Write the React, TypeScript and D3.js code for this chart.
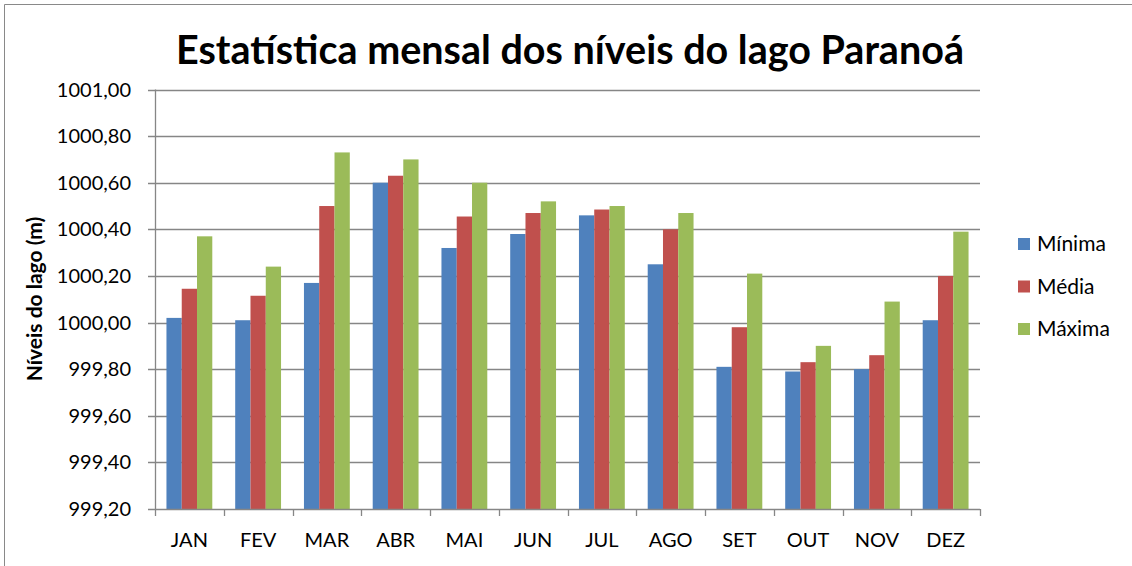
import React, { useEffect, useRef } from 'react';
import * as d3 from 'd3';

// --- Data ---
const months = ['JAN', 'FEV', 'MAR', 'ABR', 'MAI', 'JUN', 'JUL', 'AGO', 'SET', 'OUT', 'NOV', 'DEZ'];
const seriesNames = ['Mínima', 'Média', 'Máxima'];
const minima = [1000.02, 1000.01, 1000.17, 1000.60, 1000.32, 1000.38, 1000.46, 1000.25, 999.81, 999.79, 999.80, 1000.01];
const media = [1000.145, 1000.115, 1000.50, 1000.63, 1000.455, 1000.47, 1000.485, 1000.40, 999.98, 999.83, 999.86, 1000.20];
const maxima = [1000.37, 1000.24, 1000.73, 1000.70, 1000.60, 1000.52, 1000.50, 1000.47, 1000.21, 999.90, 1000.09, 1000.39];
const yTicks = [999.2, 999.4, 999.6, 999.8, 1000.0, 1000.2, 1000.4, 1000.6, 1000.8, 1001.0];
const colors = ['#4F81BD', '#C0504D', '#9BBB59'];

const W = 1132;
const H = 566;
const FONT = 'Lato, "Open Sans", sans-serif';

export default function App() {
  const svgRef = useRef<SVGSVGElement | null>(null);

  useEffect(() => {
    if (!svgRef.current) return;
    const svg = d3.select(svgRef.current);
    svg.selectAll('*').remove();

    const plot = { left: 155, right: 980, top: 89.5, bottom: 509 };
    const series = [minima, media, maxima];

    // --- Scales ---
    const x = d3.scaleBand().domain(months).range([plot.left, plot.right]).paddingInner(0).paddingOuter(0);
    const y = d3.scaleLinear().domain([999.2, 1001.0]).range([plot.bottom, plot.top]);
    const bw = x.bandwidth() / 4.5; // Excel gap width 150%
    const inner = d3.scaleBand<number>().domain([0, 1, 2]).range([0, bw * 3]);

    // outer frame (cropped at right and bottom)
    svg.append('path').attr('d', `M4.5,${H + 2} V4.5 H${W + 2}`)
      .attr('fill', 'none').attr('stroke', '#898989').attr('stroke-width', 1);

    // --- Gridlines ---
    svg.append('g').selectAll('line').data(yTicks.slice(1)).join('line')
      .attr('x1', plot.left - 7).attr('x2', plot.right)
      .attr('y1', d => Math.round(y(d)) + 0.5).attr('y2', d => Math.round(y(d)) + 0.5)
      .attr('stroke', '#868686').attr('stroke-width', 1.3);

    // --- Bars ---
    series.forEach((vals, si) => {
      svg.append('g').selectAll('rect').data(vals).join('rect')
        .attr('x', (d, i) => (x(months[i]) as number) + bw * 0.75 + (inner(si) as number))
        .attr('y', d => y(d))
        .attr('width', bw)
        .attr('height', d => plot.bottom - y(d))
        .attr('fill', colors[si]);
    });

    // --- Axes ---
    const axisColor = '#868686';
    svg.append('line').attr('x1', plot.left + 0.5).attr('x2', plot.left + 0.5)
      .attr('y1', plot.top).attr('y2', plot.bottom + 0.5).attr('stroke', axisColor).attr('stroke-width', 1.3);
    svg.append('line').attr('x1', plot.left - 7).attr('x2', plot.right)
      .attr('y1', plot.bottom + 0.5).attr('y2', plot.bottom + 0.5).attr('stroke', axisColor).attr('stroke-width', 1.3);
    const catEdges = d3.range(months.length + 1).map(i => plot.left + i * x.step());
    svg.append('g').selectAll('line').data(catEdges).join('line')
      .attr('x1', d => Math.round(d) + 0.5).attr('x2', d => Math.round(d) + 0.5)
      .attr('y1', plot.bottom).attr('y2', plot.bottom + 7)
      .attr('stroke', axisColor).attr('stroke-width', 1.3);

    const fmt = (v: number) => v.toFixed(2).replace('.', ',');
    svg.append('g').selectAll('text').data(yTicks).join('text')
      .attr('x', 131).attr('y', d => y(d)).attr('dy', '0.35em')
      .attr('text-anchor', 'end').attr('font-family', FONT).attr('font-size', 20).attr('fill', '#000')
      .text(d => fmt(d));

    svg.append('g').selectAll('text').data(months).join('text')
      .attr('x', d => (x(d) as number) + x.bandwidth() / 2).attr('y', 547)
      .attr('text-anchor', 'middle').attr('font-family', FONT).attr('font-size', 20).attr('fill', '#000')
      .text(d => d);

    // --- Titles ---
    svg.append('text').attr('x', 570).attr('y', 64).attr('text-anchor', 'middle')
      .attr('font-family', FONT).attr('font-weight', 'bold').attr('font-size', 39.5).attr('fill', '#000')
      .text('Estatística mensal dos níveis do lago Paranoá');

    svg.append('text').attr('transform', 'translate(42,299) rotate(-90)').attr('text-anchor', 'middle')
      .attr('font-family', FONT).attr('font-weight', 'bold').attr('font-size', 21).attr('fill', '#000')
      .text('Níveis do lago (m)');

    // --- Legend ---
    const legend = svg.append('g').selectAll('g').data(seriesNames).join('g')
      .attr('transform', (d, i) => `translate(1018,${244 + i * 42.5})`);
    legend.append('rect').attr('x', 0).attr('y', -6).attr('width', 12).attr('height', 12)
      .attr('fill', (d, i) => colors[i]);
    legend.append('text').attr('x', 19).attr('y', 0).attr('dy', '0.35em')
      .attr('font-family', FONT).attr('font-size', 21).attr('fill', '#000').text(d => d);
  }, []);

  return (
    <svg ref={svgRef} width={W} height={H}
      style={{ position: 'absolute', left: 0, top: 0, background: '#fff' }} />
  );
}
